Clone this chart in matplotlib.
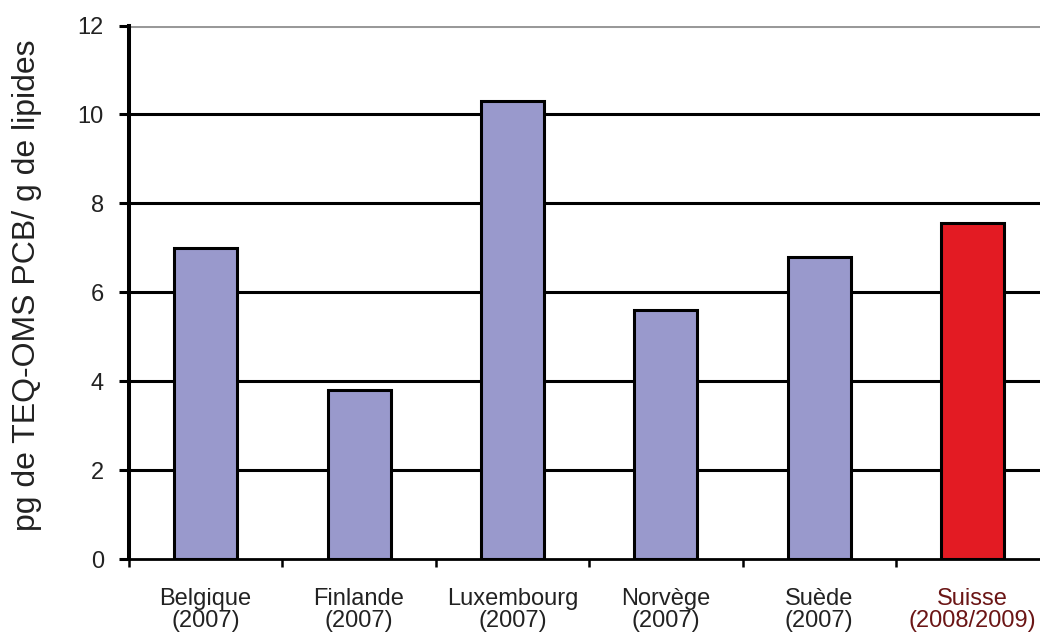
import matplotlib
matplotlib.use("Agg")
import matplotlib.pyplot as plt
import numpy as np

plt.rcParams['font.family'] = ['Liberation Sans', 'DejaVu Sans']

# data
pays = ["Belgique\n(2007)", "Finlande\n(2007)", "Luxembourg\n(2007)",
        "Norvège\n(2007)", "Suède\n(2007)", "Suisse\n(2008/2009)"]
valeurs = [7.0, 3.8, 10.3, 5.6, 6.8, 7.55]
couleurs = ["#9999CC"] * 5 + ["#E31B23"]
yticks = [0, 2, 4, 6, 8, 10, 12]

fig = plt.figure(figsize=(10.4, 6.39), dpi=100)
ax = fig.add_axes([0.124, 0.125, 0.885, 0.835])

x = np.arange(len(pays)) + 0.5
ax.bar(x, valeurs, width=0.41, color=couleurs, edgecolor="black",
       linewidth=2.2, zorder=3)

ax.set_xlim(0, len(pays))
ax.set_ylim(0, 12)

# gridlines
for yv in yticks[1:]:
    c = "#999999" if yv == 12 else "black"
    ax.axhline(yv, color=c, lw=2.2, zorder=1)

ax.set_yticks(yticks)
ax.tick_params(axis="y", length=7, width=2.2, pad=11, labelsize=17,
               colors="black", labelcolor="#222222")

ax.set_xticks(np.arange(len(pays) + 1))
ax.set_xticklabels([])
ax.set_xticks(x, minor=True)
ax.set_xticklabels(pays, minor=True, fontsize=17, color="#222222",
                   linespacing=1.0)
ax.tick_params(axis="x", which="major", length=6, width=1.8, direction="out")
ax.tick_params(axis="x", which="minor", length=0, pad=21)
ax.get_xticklabels(minor=True)[-1].set_color("#6b1515")

for s in ["top", "right"]:
    ax.spines[s].set_visible(False)
ax.spines["left"].set_linewidth(2.9)
ax.spines["bottom"].set_linewidth(2.0)

ax.set_ylabel("pg de TEQ-OMS PCB/ g de lipides", fontsize=23, color="#222222")
ax.yaxis.set_label_coords(-0.094, 0.514)

fig.savefig("out.png", dpi=100)
